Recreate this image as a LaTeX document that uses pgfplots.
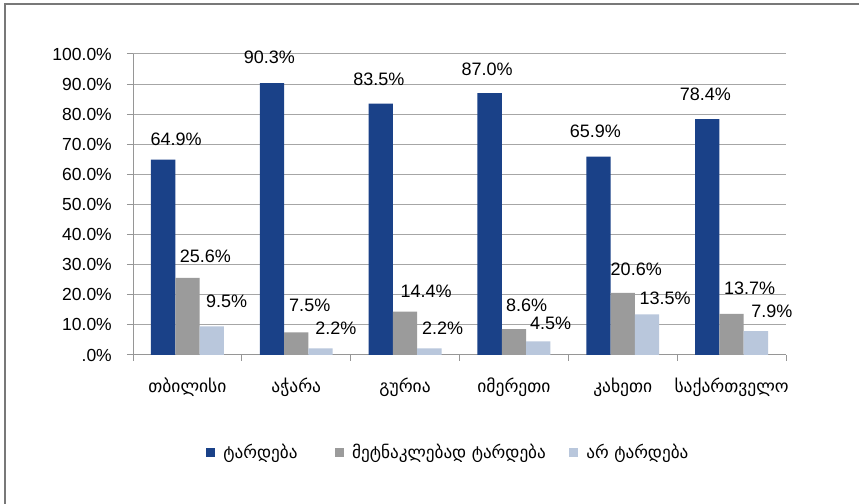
\documentclass[border=0pt]{standalone}
\usepackage{fontspec}
\setmainfont{Liberation Sans}
\newfontfamily\geo{DejaVu Sans}
\usepackage{pgfplots}
\usepackage{pgfplotstable}
\pgfplotsset{compat=1.18}
\definecolor{c1}{RGB}{26,65,136}
\definecolor{c2}{RGB}{155,155,155}
\definecolor{c3}{RGB}{185,199,220}
\definecolor{gridc}{RGB}{166,166,166}
\definecolor{axc}{RGB}{150,150,150}
\definecolor{framec}{RGB}{120,120,120}
\pgfplotstableread{
x y dx dy
0 64.9 13 20.3
1 90.3 -2.5 25.5
2 83.5 -2 24.8
3 87.0 -2.5 24.3
4 65.9 -3 25.6
5 78.4 -2 24.6
}\ta
\pgfplotstableread{
x y dx dy
0 25.6 18 21.7
1 7.5 13.5 27
2 14.4 21 20.5
3 8.6 12.7 24
4 20.6 13.5 23.2
5 13.7 18 25
}\tb
\pgfplotstableread{
x y dx dy
0 9.5 15 25
1 2.2 15.3 19.9
2 2.2 13.2 20
3 4.5 12.5 17.7
4 13.5 18 16.5
5 7.9 16 20
}\tc
\begin{document}
\begin{tikzpicture}
\useasboundingbox (0,0) rectangle (859bp,504bp);
\fill[white] (0,0) rectangle (859bp,504bp);
\draw[color=framec, line width=1.3bp] (5bp,0) -- (5bp,500bp) -- (860bp,500bp);
\begin{axis}[
  at={(133bp,149bp)}, anchor=south west,
  scale only axis, width=653bp, height=301bp,
  ybar=0pt, bar width=24.3bp,
  xmin=-0.5, xmax=5.5, ymin=0, ymax=100,
  xtick={0,...,5},
  xticklabels={თბილისი,აჭარა,გურია,იმერეთი,კახეთი,საქართველო},
  minor xtick={-0.5,0.5,...,5.5},
  ytick={0,10,...,100},
  yticklabels={.0\%,10.0\%,20.0\%,30.0\%,40.0\%,50.0\%,60.0\%,70.0\%,80.0\%,90.0\%,100.0\%},
  ymajorgrids, grid style={color=gridc, line width=1bp},
  axis x line*=bottom, axis y line*=left,
  axis line style={color=axc, line width=1bp, -},
  tick align=outside, major tick length=6bp, minor tick length=6bp,
  major x tick style={draw=none},
  minor x tick style={draw=axc, line width=1bp},
  y tick style={draw=axc, line width=1bp},
  yticklabel style={font=\fontsize{17.5bp}{20bp}\selectfont, inner sep=0pt, anchor=east, xshift=-15bp},
  xticklabel style={font=\geo\fontsize{17.5bp}{20bp}\selectfont, inner sep=0pt, anchor=north, yshift=-17bp},
  /pgf/number format/assume math mode=true,
  point meta=y,
  visualization depends on={\thisrow{dx} \as \dx},
  visualization depends on={\thisrow{dy} \as \dy},
  nodes near coords={\pgfmathprintnumber[fixed,fixed zerofill,precision=1]{\pgfplotspointmeta}\%},
  every node near coord/.append style={font=\fontsize{18bp}{20bp}\selectfont, anchor=center, inner sep=0pt, xshift=\dx bp, yshift=\dy bp, color=black},
  legend columns=-1,
  legend style={draw=none, fill=none, at={(axis description cs:0.1118,-0.324)}, anchor=west, inner sep=0pt, outer sep=0pt, font=\geo\fontsize{17.2bp}{20bp}\selectfont, /tikz/every odd column/.append style={column sep=6.5bp}, /tikz/column 2/.append style={column sep=35bp}, /tikz/column 4/.append style={column sep=21bp}},
  legend image code/.code={\fill[#1] (0bp,-4.5bp) rectangle (9bp,4.5bp);},
]
\addplot[fill=c1, draw=none] table[x=x, y=y] {\ta};
\addplot[fill=c2, draw=none] table[x=x, y=y] {\tb};
\addplot[fill=c3, draw=none] table[x=x, y=y] {\tc};
\legend{ტარდება,მეტნაკლებად ტარდება,არ ტარდება}
\end{axis}
\end{tikzpicture}
\end{document}
